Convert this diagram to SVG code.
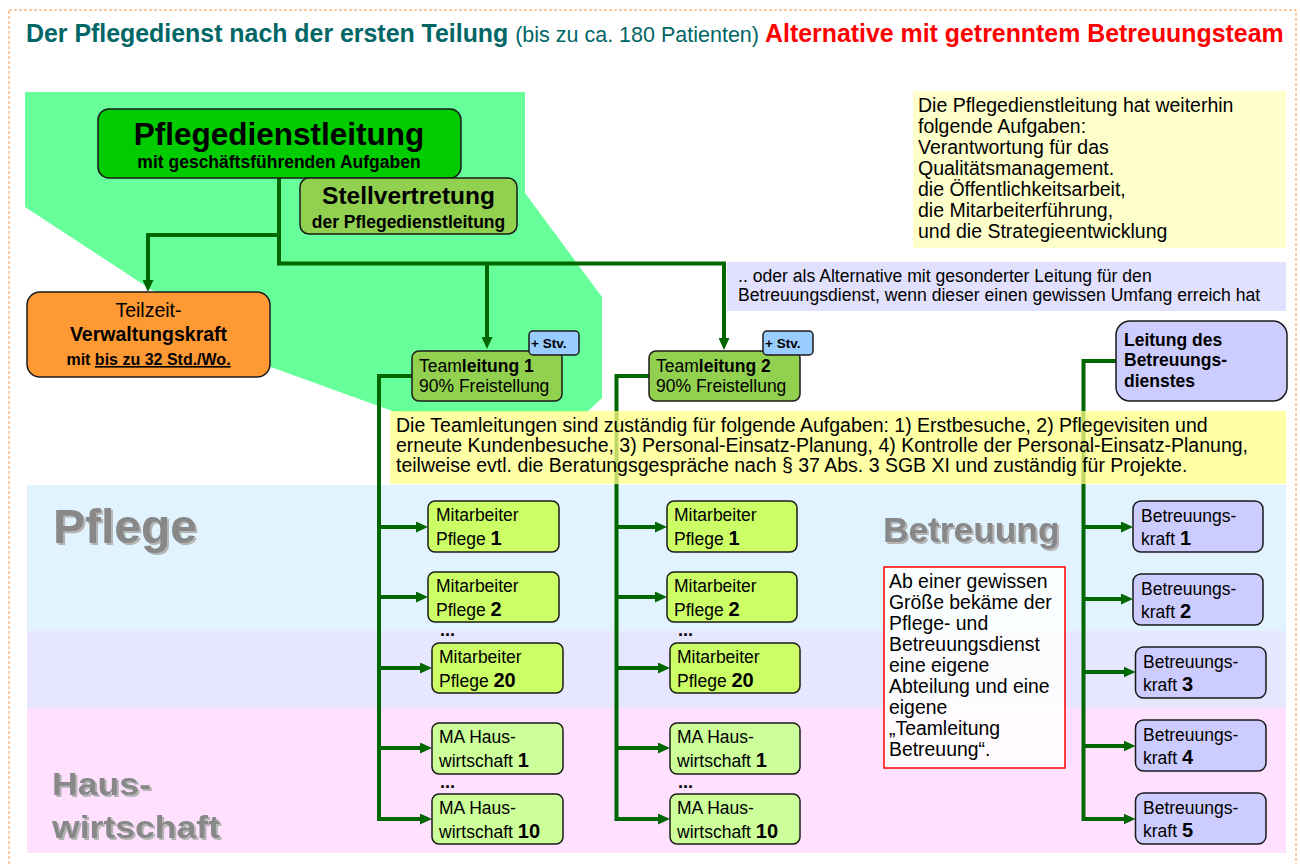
<svg xmlns="http://www.w3.org/2000/svg" width="1300" height="864" viewBox="0 0 1300 864">
<defs>
<style>
text{font-family:"Liberation Sans",Arial,sans-serif;fill:#000}
.box{stroke:#1a1a1a;stroke-width:1.5}
.con{fill:none;stroke:#006600;stroke-width:4}
.arr{marker-end:url(#ah)}
.t17{font-size:17.5px}
.t19{font-size:19.4px}
.tn{font-size:19.5px}
.b{font-weight:bold}
.num{font-weight:bold;font-size:20px}
.dots{font-weight:bold;font-size:18px}
.big{font-weight:bold;fill:#888888;filter:url(#sh)}
.ma{fill:#CCFF66}
.hw{fill:#CCFF99}
.bk{fill:#CCCCFF}
.tl{fill:#92D050}
.stv{fill:#99CCFF}
</style>
<marker id="ah" viewBox="0 0 12 11" refX="6" refY="5.5" markerWidth="12" markerHeight="11" markerUnits="userSpaceOnUse" orient="auto"><path d="M0,0 L12,5.5 L0,11 z" fill="#006600"/></marker>
<filter id="sh" x="-5%" y="-10%" width="115%" height="130%"><feDropShadow dx="2" dy="2" stdDeviation="0.7" flood-color="#b4b4b4"/></filter>
</defs>

<g id="background">
<rect x="9" y="10" width="1287" height="870" fill="none" stroke="#F79646" stroke-width="1" stroke-dasharray="3,2"/>
<rect x="27" y="485" width="1259" height="146" fill="#E1F3FF"/>
<rect x="27" y="631" width="1259" height="77" fill="#E6E6FF"/>
<rect x="27" y="708" width="1259" height="145" fill="#FFE1FF"/>
<polygon points="25,92 525,92 525,193 602,297 602,398 587,412 395,412 268,366 25,207" fill="#66FF99"/>
</g>

<g id="title">
<text x="26" y="42" style="font-size:24.9px;font-weight:bold;fill:#006666">Der Pflegedienst nach der ersten Teilung <tspan style="font-weight:normal;font-size:21.5px;fill:#006666">(bis zu ca. 180 Patienten)</tspan> <tspan style="fill:#FF0000">Alternative mit getrenntem Betreuungsteam</tspan></text>
</g>

<g id="section-labels">
<text x="53" y="543" class="big" style="font-size:48px">Pflege</text>
<text x="883" y="542" class="big" style="font-size:35.3px">Betreuung</text>
<text x="52" y="795" class="big" style="font-size:32px" textLength="99" lengthAdjust="spacingAndGlyphs">Haus-</text>
<text x="52" y="838" class="big" style="font-size:32px" textLength="168" lengthAdjust="spacingAndGlyphs">wirtschaft</text>
</g>

<g id="connectors">
<path class="con arr" d="M279,178 V235 H148 V286"/>
<path class="con arr" d="M279,235 V263.5 H724 V344"/>
<path class="con arr" d="M487,263.5 V343"/>
<path class="con arr" d="M412,376 H379 V819 H426"/>
<path class="con arr" d="M379,527 H422"/>
<path class="con arr" d="M379,597 H422"/>
<path class="con arr" d="M379,668 H426"/>
<path class="con arr" d="M379,748 H426"/>
<path class="con arr" d="M649,376 H616.5 V819 H664"/>
<path class="con arr" d="M616.5,527 H661"/>
<path class="con arr" d="M616.5,597 H661"/>
<path class="con arr" d="M616.5,668 H664"/>
<path class="con arr" d="M616.5,748 H664"/>
<path class="con arr" d="M1116,361 H1083.5 V819 H1129.5"/>
<path class="con arr" d="M1083.5,527 H1127"/>
<path class="con arr" d="M1083.5,599 H1127"/>
<path class="con arr" d="M1083.5,672 H1129.5"/>
<path class="con arr" d="M1083.5,746 H1129.5"/>
</g>

<g id="pdl">
<rect class="box" x="98" y="109" width="363" height="69" rx="11" fill="#00CC00"/>
<text x="279" y="145" text-anchor="middle" class="b" style="font-size:31.5px">Pflegedienstleitung</text>
<text x="279" y="168" text-anchor="middle" class="b t17">mit geschäftsführenden Aufgaben</text>
</g>

<g id="stellvertretung">
<rect class="box" x="300" y="178" width="217" height="56" rx="9" fill="#92D050"/>
<text x="408.5" y="204" text-anchor="middle" class="b" style="font-size:24.5px">Stellvertretung</text>
<text x="408.5" y="228" text-anchor="middle" class="b t17">der Pflegedienstleitung</text>
</g>

<g id="verwaltung">
<rect class="box" x="27" y="292" width="243" height="85" rx="13" fill="#FF9933"/>
<text x="148.5" y="317" text-anchor="middle" style="font-size:19.5px">Teilzeit-</text>
<text x="148.5" y="341" text-anchor="middle" class="b" style="font-size:19.5px">Verwaltungskraft</text>
<text x="148.5" y="365" text-anchor="middle" class="b" style="font-size:16px">mit <tspan text-decoration="underline">bis zu 32 Std./Wo.</tspan></text>
</g>

<g id="note-pdl">
<rect x="913" y="91" width="373" height="157" fill="#FFFFCC"/>
<text class="tn" x="918" y="112">Die Pflegedienstleitung hat weiterhin</text>
<text class="tn" x="918" y="133">folgende Aufgaben:</text>
<text class="tn" x="918" y="154">Verantwortung für das</text>
<text class="tn" x="918" y="175">Qualitätsmanagement.</text>
<text class="tn" x="918" y="196">die Öffentlichkeitsarbeit,</text>
<text class="tn" x="918" y="217">die Mitarbeiterführung,</text>
<text class="tn" x="918" y="238">und die Strategieentwicklung</text>
</g>

<g id="note-alternative">
<rect x="727" y="262" width="559" height="49" fill="#C4C4FF" fill-opacity="0.5"/>
<text style="font-size:17.6px" x="738" y="282">.. oder als Alternative mit gesonderter Leitung für den</text>
<text style="font-size:17.6px" x="738" y="301">Betreuungsdienst, wenn dieser einen gewissen Umfang erreich hat</text>
</g>

<g id="teamleitung1">
<rect class="box tl" x="412" y="351" width="150" height="50" rx="7"/>
<text class="t17" x="419" y="372">Team<tspan class="b">leitung 1</tspan></text>
<text class="t17" x="419" y="392">90% Freistellung</text>
</g>
<g id="stv1">
<rect class="box stv" x="529" y="331" width="50" height="24" rx="4"/>
<text x="531" y="348" class="b" style="font-size:13.5px">+ Stv.</text>
</g>

<g id="teamleitung2">
<rect class="box tl" x="649" y="351" width="151" height="50" rx="7"/>
<text class="t17" x="656" y="372">Team<tspan class="b">leitung 2</tspan></text>
<text class="t17" x="656" y="392">90% Freistellung</text>
</g>
<g id="stv2">
<rect class="box stv" x="763" y="331" width="50" height="24" rx="4"/>
<text x="765" y="348" class="b" style="font-size:13.5px">+ Stv.</text>
</g>

<g id="leitung-betreuung">
<rect class="box bk" x="1116" y="321" width="171" height="80" rx="14"/>
<text class="t17 b" x="1124" y="346">Leitung des</text>
<text class="t17 b" x="1124" y="366">Betreuungs-</text>
<text class="t17 b" x="1124" y="387">dienstes</text>
</g>

<g id="note-teamleitungen">
<rect x="390" y="411" width="896" height="73" fill="#FFFF88" fill-opacity="0.75"/>
<text class="tn" x="396" y="432">Die Teamleitungen sind zuständig für folgende Aufgaben: 1) Erstbesuche, 2) Pflegevisiten und</text>
<text class="tn" x="396" y="452">erneute Kundenbesuche, 3) Personal-Einsatz-Planung, 4) Kontrolle der Personal-Einsatz-Planung,</text>
<text class="tn" x="396" y="472">teilweise evtl. die Beratungsgespräche nach § 37 Abs. 3 SGB XI und zuständig für Projekte.</text>
</g>

<g id="t1-ma1"><rect class="box ma" x="428" y="501" width="131" height="51" rx="7"/><text class="t17" x="436" y="521">Mitarbeiter</text><text class="t17" x="436" y="545">Pflege <tspan class="num">1</tspan></text></g>
<g id="t1-ma2"><rect class="box ma" x="428" y="572" width="131" height="50" rx="7"/><text class="t17" x="436" y="592">Mitarbeiter</text><text class="t17" x="436" y="616">Pflege <tspan class="num">2</tspan></text></g>
<text class="dots" x="440" y="636">...</text>
<g id="t1-ma20"><rect class="box ma" x="432" y="643" width="131" height="50" rx="7"/><text class="t17" x="439" y="663">Mitarbeiter</text><text class="t17" x="439" y="687">Pflege <tspan class="num">20</tspan></text></g>
<g id="t1-hw1"><rect class="box hw" x="432" y="723" width="131" height="51" rx="7"/><text class="t17" x="439" y="743">MA Haus-</text><text class="t17" x="439" y="767">wirtschaft <tspan class="num">1</tspan></text></g>
<text class="dots" x="440" y="788">...</text>
<g id="t1-hw10"><rect class="box hw" x="432" y="794" width="131" height="50" rx="7"/><text class="t17" x="439" y="814">MA Haus-</text><text class="t17" x="439" y="838">wirtschaft <tspan class="num">10</tspan></text></g>

<g id="t2-ma1"><rect class="box ma" x="667" y="501" width="130" height="51" rx="7"/><text class="t17" x="674" y="521">Mitarbeiter</text><text class="t17" x="674" y="545">Pflege <tspan class="num">1</tspan></text></g>
<g id="t2-ma2"><rect class="box ma" x="667" y="572" width="130" height="50" rx="7"/><text class="t17" x="674" y="592">Mitarbeiter</text><text class="t17" x="674" y="616">Pflege <tspan class="num">2</tspan></text></g>
<text class="dots" x="678" y="636">...</text>
<g id="t2-ma20"><rect class="box ma" x="670" y="643" width="130" height="50" rx="7"/><text class="t17" x="677" y="663">Mitarbeiter</text><text class="t17" x="677" y="687">Pflege <tspan class="num">20</tspan></text></g>
<g id="t2-hw1"><rect class="box hw" x="670" y="723" width="130" height="51" rx="7"/><text class="t17" x="677" y="743">MA Haus-</text><text class="t17" x="677" y="767">wirtschaft <tspan class="num">1</tspan></text></g>
<text class="dots" x="678" y="788">...</text>
<g id="t2-hw10"><rect class="box hw" x="670" y="794" width="130" height="50" rx="7"/><text class="t17" x="677" y="814">MA Haus-</text><text class="t17" x="677" y="838">wirtschaft <tspan class="num">10</tspan></text></g>

<g id="note-betreuung">
<rect x="884" y="567" width="181" height="201" fill="#FFFFFF" fill-opacity="0.85" stroke="#FF0000" stroke-width="1.5"/>
<text class="t19" x="889" y="588">Ab einer gewissen</text>
<text class="t19" x="889" y="609">Größe bekäme der</text>
<text class="t19" x="889" y="630">Pflege- und</text>
<text class="t19" x="889" y="651">Betreuungsdienst</text>
<text class="t19" x="889" y="672">eine eigene</text>
<text class="t19" x="889" y="693">Abteilung und eine</text>
<text class="t19" x="889" y="714">eigene</text>
<text class="t19" x="889" y="735">„Teamleitung</text>
<text class="t19" x="889" y="756">Betreuung“.</text>
</g>

<g id="bk1"><rect class="box bk" x="1133" y="501" width="130" height="51" rx="8"/><text class="t17" x="1141" y="522">Betreuungs-</text><text class="t17" x="1141" y="545">kraft <tspan class="num">1</tspan></text></g>
<g id="bk2"><rect class="box bk" x="1133" y="574" width="130" height="51" rx="8"/><text class="t17" x="1141" y="595">Betreuungs-</text><text class="t17" x="1141" y="618">kraft <tspan class="num">2</tspan></text></g>
<g id="bk3"><rect class="box bk" x="1135.5" y="647" width="130.5" height="51" rx="8"/><text class="t17" x="1143" y="668">Betreuungs-</text><text class="t17" x="1143" y="691">kraft <tspan class="num">3</tspan></text></g>
<g id="bk4"><rect class="box bk" x="1135.5" y="720" width="130.5" height="51" rx="8"/><text class="t17" x="1143" y="741">Betreuungs-</text><text class="t17" x="1143" y="764">kraft <tspan class="num">4</tspan></text></g>
<g id="bk5"><rect class="box bk" x="1135.5" y="793" width="130.5" height="51" rx="8"/><text class="t17" x="1143" y="814">Betreuungs-</text><text class="t17" x="1143" y="837">kraft <tspan class="num">5</tspan></text></g>
</svg>
